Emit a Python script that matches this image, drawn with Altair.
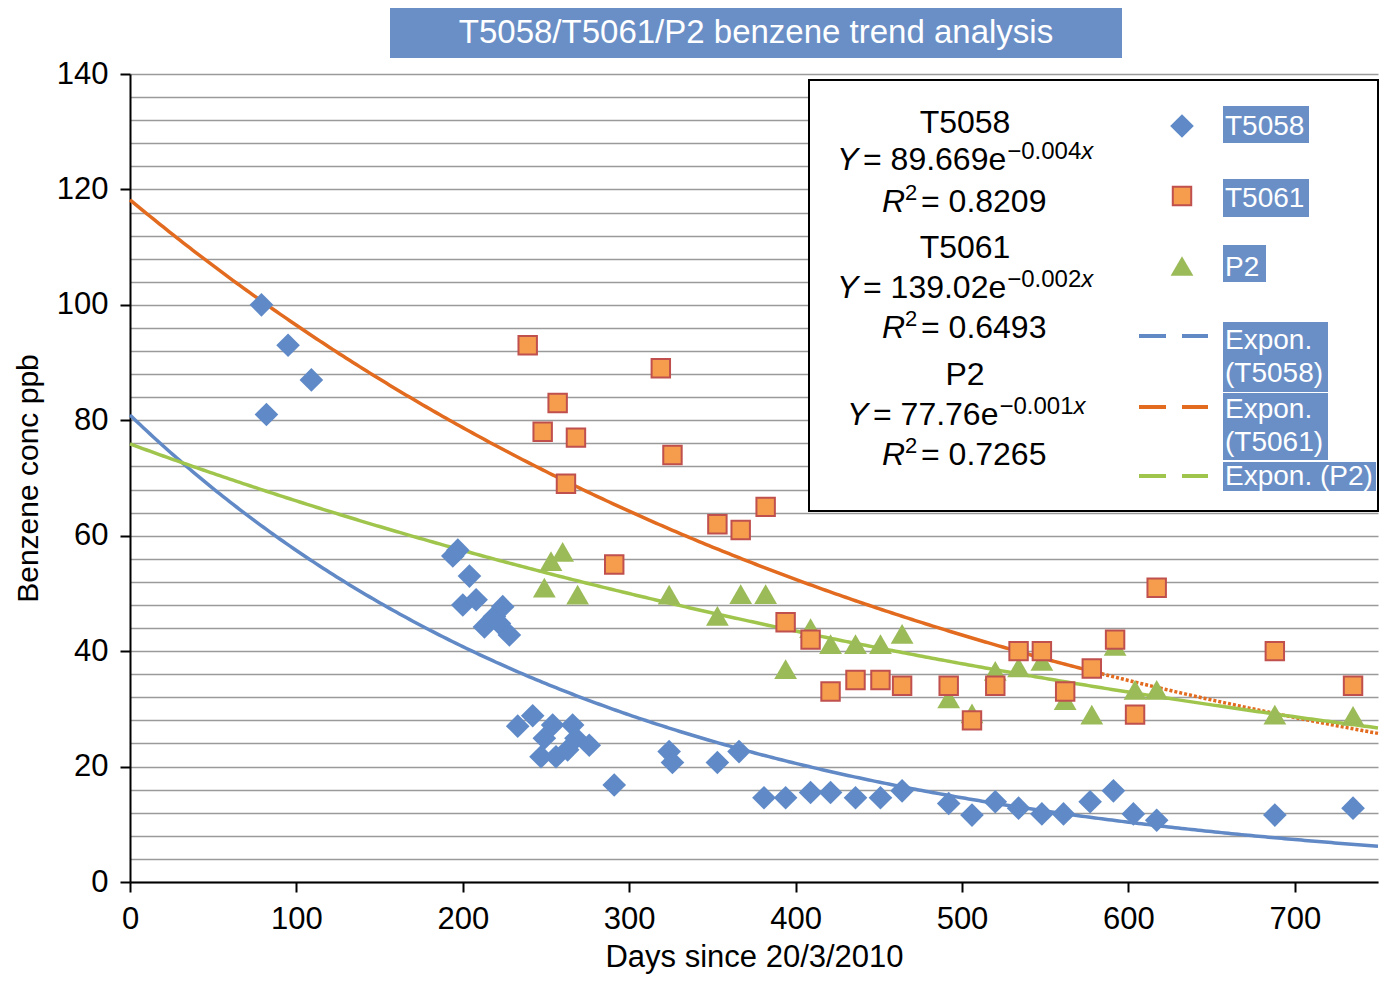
import altair as alt
import pandas as pd

# ---------------- data ----------------
series_names = ["T5058", "T5061", "P2"]

t5058_days = [79, 82, 95, 109, 194, 197, 200, 204, 208, 213, 219, 222, 224, 228,
              233, 242, 247, 249, 254, 256, 263, 266, 268, 276, 291,
              324, 326, 353, 366, 381, 394, 409, 421, 436, 451, 464,
              492, 506, 520, 534, 548, 561, 577, 591, 603, 617, 688, 735]
t5058_ppb = [100, 81, 93, 87, 56.5, 57.5, 48, 53, 48.9, 44.2, 46, 44.8, 47.7, 42.8,
             27, 28.8, 21.7, 24.9, 27.2, 21.7, 22.9, 27.2, 24.9, 23.7, 16.8,
             22.6, 20.7, 20.7, 22.6, 14.6, 14.6, 15.5, 15.5, 14.6, 14.6, 15.8,
             13.6, 11.6, 13.9, 12.8, 11.8, 11.8, 13.9, 15.8, 11.8, 10.7, 11.6, 12.8]

t5061_days = [239, 248, 257, 262, 268, 291, 319, 326, 353, 367, 382, 394, 409, 421,
              436, 451, 464, 492, 506, 520, 534, 548, 562, 578, 592, 604, 617, 688, 735]
t5061_ppb = [93, 78, 83, 69, 77, 55, 89, 74, 62, 61, 65, 45, 42, 33,
             35, 35, 34, 34, 28, 34, 40, 40, 33, 37, 42, 29, 51, 40, 34]

p2_days = [249, 253, 260, 269, 324, 353, 367, 382, 394, 409, 421, 436, 451, 464,
           492, 506, 520, 534, 548, 562, 578, 592, 604, 617, 688, 735]
p2_ppb = [51, 55.6, 57.2, 49.8, 49.8, 46.1, 49.9, 49.9, 36.9, 44, 41.2, 41.2, 41.2, 43,
          31.8, 29.2, 36.6, 37.2, 38.3, 31.5, 29, 40.9, 33.3, 33.3, 29, 28.8]

# exponential trend lines as drawn in the picture: start value at day 0 and decay rate
trend_start = [80.9, 118.2, 75.9]
trend_rate = [0.003425, 0.002032, 0.001393]
trend_solid_end = [750, 578, 750]   # T5061 trend turns dotted after ~578 days

x_ticks = [0, 100, 200, 300, 400, 500, 600, 700]
y_grid = list(range(0, 141, 4))

equations = [
    ("T5058", "89.669e", "\u22120.004", "0.8209"),
    ("T5061", "139.02e", "\u22120.002", "0.6493"),
    ("P2", "77.76e", "\u22120.001", "0.7265"),
]

df = pd.concat([
    pd.DataFrame({"days": t5058_days, "ppb": t5058_ppb, "series": "T5058"}),
    pd.DataFrame({"days": t5061_days, "ppb": t5061_ppb, "series": "T5061"}),
    pd.DataFrame({"days": p2_days, "ppb": p2_ppb, "series": "P2"}),
], ignore_index=True)

# ---------------- styling / layout ----------------
FONT = "Liberation Sans"
BLUE = "#5f8ac7"
BLUE_LINE = "#6189c6"
ORANGE_FILL = "#f59d4c"
ORANGE_EDGE = "#c0504d"
ORANGE_LINE = "#e26b1f"
GREEN = "#9bbb59"
GREEN_LINE = "#a0c54c"
HILITE = "#6a8fc7"
line_colors = [BLUE_LINE, ORANGE_LINE, GREEN_LINE]

X0, Y0 = 130, 74          # plot origin on the page
W, H = 1248, 808

xscale = alt.Scale(domain=[0, 750], nice=False, zero=False)
yscale = alt.Scale(domain=[0, 140], nice=False)

x_axis = alt.Axis(values=x_ticks, grid=False, title="Days since 20/3/2010",
                  labelPadding=12, labelFlush=False,
                  titleY=84, titleBaseline="alphabetic")
y_axis = alt.Axis(values=y_grid, grid=True, title="Benzene conc ppb",
                  labelExpr="datum.value % 20 === 0 ? datum.label : ''",
                  labelOverlap=False, labelBound=False, labelFlush=False,
                  tickOpacity={"condition": {"test": "datum.value % 20 === 0", "value": 1}, "value": 0},
                  labelPadding=12, titleX=-102, titleY=H / 2, titleAngle=-90,
                  titleAlign="center", titleBaseline="middle", titleFontSize=30)

X = alt.X("days:Q", scale=xscale, axis=x_axis)
Y = alt.Y("ppb:Q", scale=yscale, axis=y_axis)

base = alt.Chart(df)


def trend(i, lo, hi, dash=None):
    c = alt.Chart(alt.sequence(lo, hi + 0.5, 2, as_="days")).transform_calculate(
        ppb=f"{trend_start[i]} * exp(-{trend_rate[i]} * datum.days)")
    kw = dict(color=line_colors[i], strokeWidth=3.5)
    if dash:
        kw["strokeDash"] = dash
    return c.mark_line(**kw).encode(x=X, y=Y)


trends = []
for i in range(3):
    trends.append(trend(i, 0, trend_solid_end[i]))
    if trend_solid_end[i] < 750:
        trends.append(trend(i, trend_solid_end[i], 750, dash=[3, 2]))

pts_diam = base.transform_filter(alt.datum.series == "T5058").mark_point(
    shape="diamond", filled=True, size=560, color=BLUE, opacity=1).encode(x=X, y=Y)
pts_tri = base.transform_filter(alt.datum.series == "P2").mark_point(
    shape="triangle-up", filled=True, size=520, color=GREEN, opacity=1).encode(x=X, y=Y)
pts_sq = base.transform_filter(alt.datum.series == "T5061").mark_point(
    shape="square", filled=True, size=340, fill=ORANGE_FILL, stroke=ORANGE_EDGE,
    strokeWidth=2, opacity=1).encode(x=X, y=Y)

# ---------------- decorations (title bar, legend box) ----------------
one = pd.DataFrame({"k": [0]})


def txt(s, x, y, size=32, italic=False, color="black", align="left"):
    return alt.Chart(one).mark_text(
        text=s, font=FONT, fontSize=size, fontStyle="italic" if italic else "normal",
        color=color, align=align, baseline="alphabetic").encode(
        x=alt.value(x - X0), y=alt.value(y - Y0))


def rect(x1, y1, x2, y2, fill, stroke=None, sw=0):
    kw = dict(fill=fill)
    if stroke:
        kw.update(stroke=stroke, strokeWidth=sw)
    return alt.Chart(one).mark_rect(**kw).encode(
        x=alt.value(x1 - X0), x2=alt.value(x2 - X0),
        y=alt.value(y1 - Y0), y2=alt.value(y2 - Y0))


def sym(shape, x, y, size, **kw):
    return alt.Chart(one).mark_point(shape=shape, filled=True, size=size, opacity=1, **kw).encode(
        x=alt.value(x - X0), y=alt.value(y - Y0))


def dash_line(x1, x2, y, color):
    return alt.Chart(one).mark_rule(color=color, strokeWidth=4, strokeDash=[27, 16]).encode(
        x=alt.value(x1 - X0), x2=alt.value(x2 - X0), y=alt.value(y - Y0))


deco = []
# title bar
deco.append(rect(390, 8, 1122, 58, HILITE))
deco.append(txt("T5058/T5061/P2 benzene trend analysis", 756, 43, size=33, color="white", align="center"))

# legend box
deco.append(rect(809, 80, 1378, 511, "white", stroke="black", sw=2))

# equations
eq_rows = [(133, 170, 212, 837), (258, 298, 338, 837), (385, 425, 465, 847)]
for (name, coef, expo, r2), (yn, ye, yr, xs) in zip(equations, eq_rows):
    deco.append(txt(name, 965, yn, align="center"))
    deco.append(txt("Y", xs, ye, italic=True))
    deco.append(txt("= " + coef, xs + 26, ye))
    coef_w = 0.584 * 32 + 0.278 * 32 + sum((0.278 if ch == "." else 0.556) for ch in coef) * 32
    sx = xs + 26 + coef_w + 1
    deco.append(txt(expo, sx, ye - 11, size=24))
    deco.append(txt("x", sx + 74, ye - 11, size=24, italic=True))
    deco.append(txt("R", 882, yr, italic=True))
    deco.append(txt("2", 905, yr - 12, size=22))
    deco.append(txt("= " + r2, 921, yr))

# legend entries
LS = 28
deco.append(sym("diamond", 1182, 126, 560, color=BLUE))
deco.append(rect(1223, 106, 1309, 143, HILITE))
deco.append(txt("T5058", 1225, 135, size=LS, color="white"))

deco.append(sym("square", 1182, 196, 340, fill=ORANGE_FILL, stroke=ORANGE_EDGE, strokeWidth=2))
deco.append(rect(1223, 179, 1309, 217, HILITE))
deco.append(txt("T5061", 1225, 207, size=LS, color="white"))

deco.append(sym("triangle-up", 1182, 266, 520, color=GREEN))
deco.append(rect(1223, 245, 1266, 282, HILITE))
deco.append(txt("P2", 1225, 276, size=LS, color="white"))

deco.append(dash_line(1139, 1208, 336, BLUE_LINE))
deco.append(rect(1223, 322, 1328, 392, HILITE))
deco.append(txt("Expon.", 1225, 349, size=LS, color="white"))
deco.append(txt("(T5058)", 1225, 382, size=LS, color="white"))

deco.append(dash_line(1139, 1208, 407, ORANGE_LINE))
deco.append(rect(1223, 393, 1328, 460, HILITE))
deco.append(txt("Expon.", 1225, 418, size=LS, color="white"))
deco.append(txt("(T5061)", 1225, 451, size=LS, color="white"))

deco.append(dash_line(1139, 1208, 476, GREEN_LINE))
deco.append(rect(1223, 462, 1376, 491, HILITE))
deco.append(txt("Expon. (P2)", 1225, 485, size=LS, color="white"))

chart = alt.layer(
    *trends, pts_diam, pts_tri, pts_sq, *deco
).properties(
    width=W, height=H,
    padding={"left": 122, "top": 66, "right": 2, "bottom": 92},
    autosize=alt.AutoSizeParams(type="none"),
).configure_view(stroke=None).configure_axis(
    domainColor="black", domainWidth=2, tickColor="black", tickWidth=2, tickSize=10,
    labelFont=FONT, labelFontSize=31, labelColor="black",
    titleFont=FONT, titleFontSize=31, titleFontWeight="normal", titleColor="black",
    gridColor="#9a9a9a", gridWidth=1.5,
)

chart.save("out.html", embed_options={"renderer": "svg", "actions": False})
